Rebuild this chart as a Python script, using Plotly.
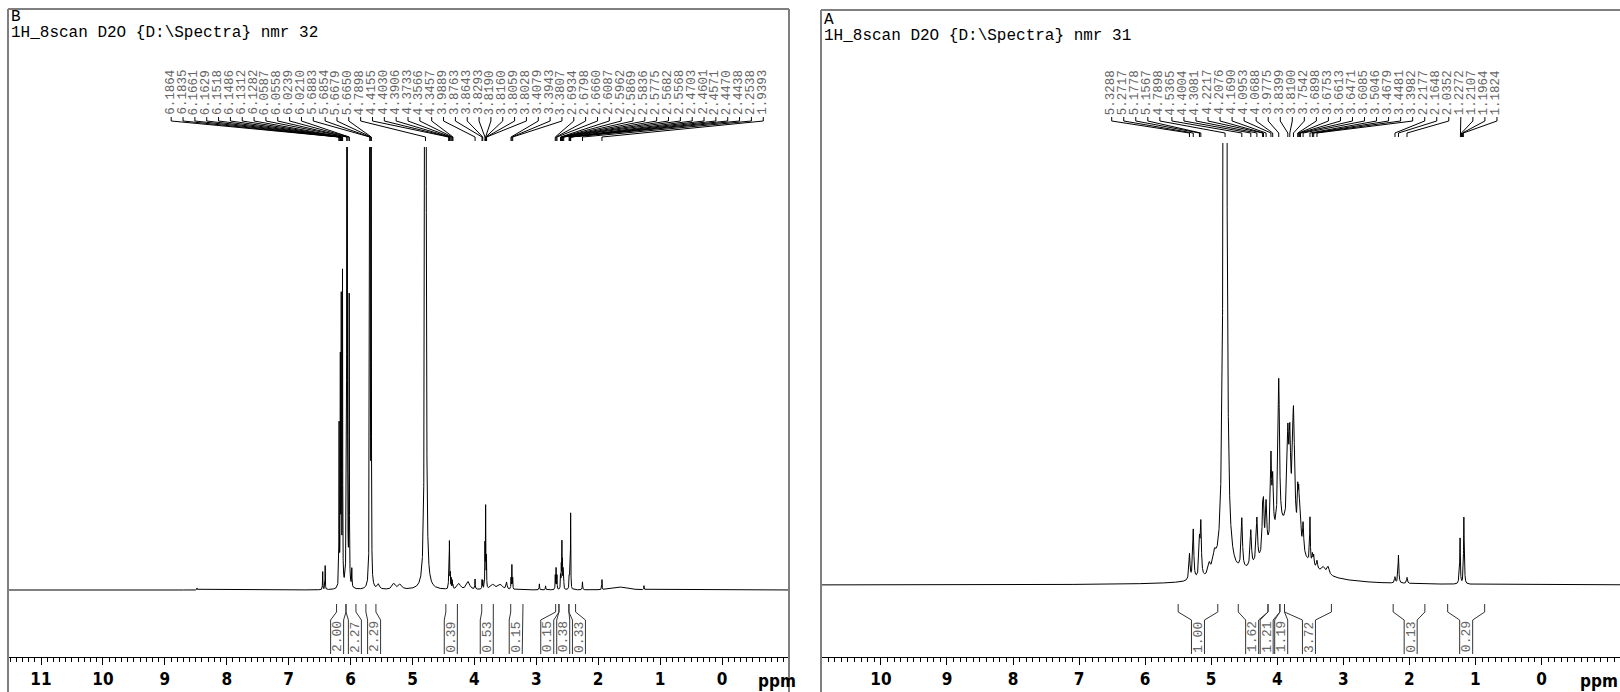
import numpy as np
import plotly.graph_objects as go

W, H = 1620, 692

# ---------------- data: panel B (left) ----------------
b_title = "B"
b_subtitle = "1H_8scan D2O {D:\\Spectra} nmr 32"
b_ticks = [11, 10, 9, 8, 7, 6, 5, 4, 3, 2, 1, 0]
b_peak_labels = [6.1864, 6.1835, 6.1661, 6.1629, 6.1518, 6.1486, 6.1312, 6.1282,
                 6.0587, 6.0558, 6.0239, 6.0210, 5.6883, 5.6854, 5.6679, 5.6650,
                 4.7898, 4.4155, 4.4030, 4.3906, 4.3733, 4.3566, 4.3457, 3.9889,
                 3.8763, 3.8643, 3.8293, 3.8190, 3.8160, 3.8059, 3.8028, 3.4079,
                 3.3943, 3.3807, 2.6934, 2.6798, 2.6660, 2.6087, 2.5962, 2.5869,
                 2.5836, 2.5775, 2.5682, 2.5568, 2.4703, 2.4601, 2.4571, 2.4470,
                 2.4438, 2.2538, 1.9393]
b_pk_ppm = [8.48, 6.45, 6.41, 6.185, 6.165, 6.150, 6.130, 6.057, 6.022, 5.98,
            5.687, 5.666, 5.55, 5.30, 5.20, 4.79, 4.415, 4.403, 4.390, 4.373,
            4.357, 4.346, 4.25, 4.10, 3.989, 3.876, 3.864, 3.829, 3.818, 3.805,
            3.70, 3.58, 3.48, 3.408, 3.394, 3.381, 2.95, 2.85, 2.693, 2.680,
            2.666, 2.609, 2.596, 2.586, 2.578, 2.568, 2.557, 2.470, 2.458, 2.445,
            2.254, 1.939, 1.62, 1.26]
b_pk_h = [2, 18, 24, 160, 220, 280, 310, 1500, 285, 18,
          1500, 430, 5, 6, 5, 5000, 18, 46, 26, 10,
          8, 6, 6, 8, 10, 9, 8, 42, 80, 30,
          5, 5, 7, 11, 24, 11, 6, 4, 14, 21,
          14, 14, 22, 44, 24, 18, 13, 12, 36, 75,
          8, 10, 3, 4]
b_pk_w = [0.004, 0.003, 0.003, 0.003, 0.003, 0.003, 0.003, 0.003, 0.003, 0.004,
          0.003, 0.003, 0.02, 0.03, 0.03, 0.004, 0.003, 0.003, 0.003, 0.003,
          0.003, 0.003, 0.03, 0.03, 0.004, 0.003, 0.003, 0.003, 0.003, 0.003,
          0.04, 0.04, 0.01, 0.003, 0.003, 0.003, 0.004, 0.004, 0.003, 0.003,
          0.003, 0.003, 0.003, 0.003, 0.003, 0.003, 0.003, 0.003, 0.003, 0.003,
          0.004, 0.003, 0.12, 0.004]
b_int_start = [6.226, 6.074, 5.752, 4.461, 3.881, 3.413, 2.687, 2.634, 2.473]
b_int_end = [6.074, 5.913, 5.590, 4.274, 3.694, 3.215, 2.634, 2.473, 2.365]
b_int_center = [6.217, 5.930, 5.620, 4.381, 3.800, 3.332, 2.823, 2.565, 2.311]
b_int_text = ["2.00", "2.27", "2.29", "0.39", "0.53", "0.15", "0.15", "0.38", "0.33"]

# ---------------- data: panel A (right) ----------------
a_title = "A"
a_subtitle = "1H_8scan D2O {D:\\Spectra} nmr 31"
a_ticks = [10, 9, 8, 7, 6, 5, 4, 3, 2, 1, 0]
a_peak_labels = [5.3288, 5.2717, 5.1778, 5.1567, 4.7898, 4.5365, 4.4004, 4.3081,
                 4.2217, 4.2076, 4.1690, 4.0953, 4.0688, 3.9775, 3.8399, 3.8100,
                 3.7542, 3.6898, 3.6753, 3.6613, 3.6471, 3.6085, 3.5046, 3.4679,
                 3.4481, 3.3982, 2.2177, 2.1648, 2.0352, 1.2272, 1.2107, 1.1964,
                 1.1824]
a_pk_ppm = [5.3288, 5.2717, 5.1778, 5.1567, 5.03, 4.95, 4.7898, 4.5365, 4.4004,
            4.3081, 4.2217, 4.2076, 4.1690, 4.0953, 4.0688, 3.9775, 3.8399,
            3.8100, 3.7542, 3.6898, 3.6753, 3.6613, 3.6471, 3.6085, 3.5046,
            3.4679, 3.4481, 3.3982, 3.30, 3.23, 3.90, 2.2177, 2.1648, 2.0352,
            1.245, 1.232, 1.175, 1.165]
a_pk_h = [26, 50, 34, 52, 10, 16, 5000, 50, 36, 44, 38, 40, 46, 80, 55, 150,
          85, 80, 125, 40, 35, 25, 20, 28, 45, 10, 10, 8, 6, 8, 55, 6, 28, 6,
          14, 44, 64, 14]
a_pk_w = [0.01, 0.01, 0.01, 0.01, 0.02, 0.03, 0.009, 0.012, 0.012, 0.012,
          0.01, 0.01, 0.012, 0.01, 0.012, 0.014, 0.014, 0.014, 0.02, 0.008,
          0.008, 0.01, 0.01, 0.01, 0.006, 0.008, 0.008, 0.01, 0.03, 0.02, 0.3,
          0.008, 0.007, 0.008, 0.005, 0.005, 0.005, 0.005]
a_int_start = [5.50, 4.59, 4.14, 3.96, 3.89, 2.245, 1.42]
a_int_end = [4.90, 4.14, 3.96, 3.89, 3.18, 1.765, 0.86]
a_int_center = [5.20, 4.38, 4.16, 3.94, 3.52, 1.98, 1.14]
a_int_text = ["1.00", "1.62", "1.21", "1.19", "3.72", "0.13", "0.29"]

# ---------------- layout constants (pixels) ----------------
MONO = "Liberation Mono, Courier New, monospace"
AXF = "Liberation Sans Narrow, Arial Narrow, DejaVu Sans Condensed, Liberation Sans, Arial"
AXIS_Y = 657
PANELS = [
    dict(name="B", x0=8, x1=789, ppm_l=11.533, ppm_r=-1.082, base=590, clip=147,
         lab_l=8.897, lab_r=-0.666, title=b_title, sub=b_subtitle, ticks=b_ticks,
         labels=b_peak_labels, pk=(b_pk_ppm, b_pk_h, b_pk_w),
         ints=(b_int_start, b_int_end, b_int_center, b_int_text),
         xa="x", ya="y", yo="y3", border_right=True, ppm_x=777,
         top=9, t_y=17, s_y=33),
    dict(name="A", x0=821, x1=1620, ppm_l=10.907, ppm_r=-1.189, base=585, clip=143,
         lab_l=6.506, lab_r=0.674, title=a_title, sub=a_subtitle, ticks=a_ticks,
         labels=a_peak_labels, pk=(a_pk_ppm, a_pk_h, a_pk_w),
         ints=(a_int_start, a_int_end, a_int_center, a_int_text),
         xa="x2", ya="y2", yo="y4", border_right=False, ppm_x=1599,
         top=10, t_y=20, s_y=36),
]

fig = go.Figure()
annotations = []
shapes = []
layout = {}

def py(p):
    return 1 - p / H

for i, P in enumerate(PANELS):
    ppm_axis = np.arange(P["ppm_r"] - 0.05, P["ppm_l"] + 0.05, 0.0005)
    ppm_list, h_list, w_list = P["pk"]
    spec = np.zeros_like(ppm_axis)
    for c, hh, ww in zip(ppm_list, h_list, w_list):
        spec += hh / (1 + ((ppm_axis - c) / ww) ** 2)
    fig.add_trace(go.Scatter(x=np.round(ppm_axis, 4), y=np.round(spec, 2), mode="lines",
                             line=dict(color="black", width=1), xaxis=P["xa"], yaxis=P["ya"],
                             hoverinfo="skip", showlegend=False))

    pxppm = (P["x1"] - P["x0"]) / (P["ppm_l"] - P["ppm_r"])
    # peak label connectors
    labs = P["labels"]
    lab_x = np.linspace(P["lab_l"], P["lab_r"], len(labs))
    cy0, cy1, cy2, cy3 = 117, 121, P["clip"] - 10, P["clip"] - 6
    cx, cyy = [], []
    for lx, pv in zip(lab_x, labs):
        cx += [lx, lx, pv, pv, None]
        cyy += [cy0, cy1, cy2, cy3, None]
        annotations.append(dict(x=lx, y=py(116), xref=P["xa"], yref="paper", text=f"{pv:.4f}",
                                textangle=-90, showarrow=False, xanchor="center", yanchor="bottom",
                                font=dict(family=MONO, size=12.5, color="#666666"), borderpad=0))
    fig.add_trace(go.Scatter(x=cx, y=cyy, mode="lines", line=dict(color="black", width=1),
                             xaxis=P["xa"], yaxis=P["yo"], hoverinfo="skip", showlegend=False))
    # integrals
    s_l, e_l, c_l, t_l = P["ints"]
    hb = 6.5 / pxppm
    ix, iy = [], []
    for s, e, c, t in zip(s_l, e_l, c_l, t_l):
        ix += [s, s, c + hb, c + hb, None, e, e, c - hb, c - hb, None]
        iy += [604, 612, 620, 654, None, 604, 612, 620, 654, None]
        annotations.append(dict(x=c, y=py(637), xref=P["xa"], yref="paper", text=t,
                                textangle=-90, showarrow=False, xanchor="center", yanchor="middle",
                                font=dict(family=MONO, size=13, color="#666666"), borderpad=0))
    fig.add_trace(go.Scatter(x=ix, y=iy, mode="lines", line=dict(color="#333333", width=1),
                             xaxis=P["xa"], yaxis=P["yo"], hoverinfo="skip", showlegend=False))

    # axes
    xkey = "xaxis" if i == 0 else "xaxis2"
    ykey = "yaxis" if i == 0 else "yaxis2"
    okey = "yaxis3" if i == 0 else "yaxis4"
    layout[xkey] = dict(domain=[P["x0"] / W, P["x1"] / W], range=[P["ppm_l"], P["ppm_r"]],
                        anchor=P["ya"], showline=True, linecolor="black", linewidth=1,
                        ticks="outside", ticklen=7, tickwidth=1, tickcolor="black",
                        tickmode="array", tickvals=P["ticks"], ticktext=[str(t) for t in P["ticks"]],
                        tickfont=dict(family=AXF, size=17, color="black", weight="bold"),
                        minor=dict(tickmode="linear", tick0=0, dtick=0.1, ticklen=4,
                                   tickcolor="black", ticks="outside", showgrid=False),
                        showgrid=False, zeroline=False, fixedrange=True, automargin=False)
    plot_h = AXIS_Y - P["clip"]
    below = AXIS_Y - P["base"]
    layout[ykey] = dict(domain=[1 - AXIS_Y / H, 1 - P["clip"] / H], range=[-below, plot_h - below],
                        visible=False, anchor=P["xa"], fixedrange=True)
    layout[okey] = dict(domain=[0, 1], range=[H, 0], visible=False, anchor=P["xa"], fixedrange=True)

    # borders
    bc = "#7f7f7f"
    top = P["top"]
    shapes.append(dict(type="line", xref="paper", yref="paper", x0=P["x0"] / W, x1=P["x1"] / W,
                       y0=py(top), y1=py(top), line=dict(color=bc, width=2)))
    shapes.append(dict(type="line", xref="paper", yref="paper", x0=P["x0"] / W, x1=P["x0"] / W,
                       y0=py(top), y1=py(700), line=dict(color=bc, width=2)))
    if P["border_right"]:
        shapes.append(dict(type="line", xref="paper", yref="paper", x0=P["x1"] / W, x1=P["x1"] / W,
                           y0=py(top), y1=py(700), line=dict(color=bc, width=2)))
    # titles
    annotations.append(dict(x=(P["x0"] + 1) / W, y=py(P["t_y"]), xref="paper", yref="paper", text=P["title"],
                            showarrow=False, xanchor="left", yanchor="middle",
                            font=dict(family=MONO, size=16, color="black")))
    annotations.append(dict(x=(P["x0"] + 1) / W, y=py(P["s_y"]), xref="paper", yref="paper", text=P["sub"],
                            showarrow=False, xanchor="left", yanchor="middle",
                            font=dict(family=MONO, size=16, color="black")))
    annotations.append(dict(x=P["ppm_x"] / W, y=py(681), xref="paper", yref="paper", text="ppm",
                            showarrow=False, xanchor="center", yanchor="middle",
                            font=dict(family=AXF, size=17, color="black", weight="bold")))

fig.update_layout(width=W, height=H, margin=dict(l=0, r=0, t=0, b=0),
                  paper_bgcolor="white", plot_bgcolor="rgba(0,0,0,0)",
                  annotations=annotations, shapes=shapes, showlegend=False, **layout)
fig.write_html("out.html", config={"displayModeBar": False},
               post_script="document.body.style.margin='0';document.body.style.overflow='hidden';")
